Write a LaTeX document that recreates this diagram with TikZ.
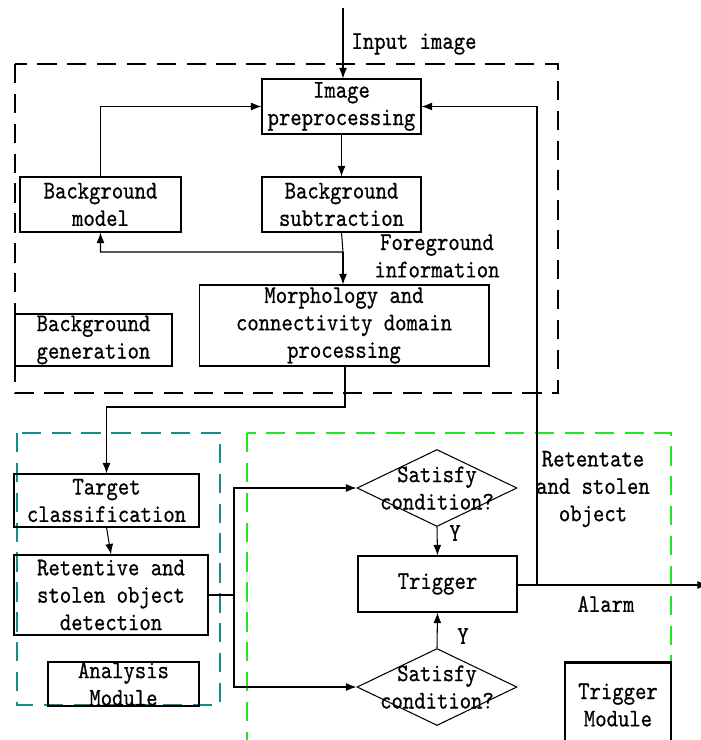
\documentclass[tikz,border=0pt]{standalone}
\usepackage{fontspec}
\usepackage{xcolor}
\usetikzlibrary{
    positioning,      % For placing nodes relative to each other
    shapes.geometric, % For the 'diamond' decision shape
    arrows.meta       % For modern arrow tips like 'Latex'
}
\newfontfamily\diafont{lmmono10-regular.otf}[FakeStretch=0.85,FakeBold=0.6]
\definecolor{AnalysisColor}{HTML}{138C8C}
\definecolor{TriggerColor}{HTML}{22E622}

\begin{document}
\begin{tikzpicture}[
    % One unit is one pixel of the 700x740 reference, y grows downwards
    x=0.02cm, y=-0.02cm,
    % Narrow, tall serif typewriter text to match the image
    font=\diafont\fontsize{14.5}{15.6}\selectfont,
]
    % --- Define TikZ styles for diagram elements ---
    \tikzset{
        % Style for the plain process blocks
        block/.style={
            shape=rectangle,
            draw=black,
            line width=0.6pt,
            align=center,
            inner sep=0pt,
        },
        % Style for the module name boxes (heavy border)
        modulebox/.style={
            block,
            line width=1.4pt,
        },
        % Style for the decision diamonds
        decision/.style={
            shape=diamond,
            draw=black,
            line width=0.6pt,
            inner sep=0pt,
            minimum width=3.2cm,
            minimum height=1.54cm,
        },
        % Style for the dashed module frames
        frame/.style={
            line width=1.1pt,
            dash pattern=on 11pt off 6pt,
        },
        % Style for the free labels
        tag/.style={
            align=center,
            inner sep=0pt,
        },
        % Style for the arrows connecting the blocks
        arrow/.style={
            draw,
            line width=0.6pt,
            -{Latex[length=6pt,width=4.5pt]}
        }
    }

    \useasboundingbox (0,0) rectangle (700,740);

    % --- Dashed module frames ---
    \draw[frame, black]         (15,64)   rectangle (558,393);
    \draw[frame, AnalysisColor] (17,433)  rectangle (220,705);
    \draw[frame, TriggerColor]  (247,433) rectangle (671,760);

    % --- Background generation part ---
    \node[block, minimum width=3.18cm, minimum height=1.1cm] (prep)
        at (341.5,106.5) {Image\\preprocessing};
    \node[block, minimum width=3.22cm, minimum height=1.1cm] (bgmodel)
        at (100.5,204.5) {Background\\model};
    \node[block, minimum width=3.18cm, minimum height=1.1cm] (bgsub)
        at (341.5,204.5) {Background\\subtraction};
    \node[block, minimum width=5.8cm, minimum height=1.62cm] (morph)
        at (344,325.5) {Morphology and\\connectivity domain\\processing};
    \node[modulebox, minimum width=3.14cm, minimum height=1.04cm] (bggen)
        at (93.5,340) {Background\\generation};

    % --- Analysis part ---
    \node[block, minimum width=3.7cm, minimum height=1.06cm] (target)
        at (106.5,500.5) {Target\\classification};
    \node[block, minimum width=3.88cm, minimum height=1.6cm] (retent)
        at (111,595) {Retentive and\\stolen object\\detection};
    \node[modulebox, minimum width=3.02cm, minimum height=0.88cm] (analysis)
        at (123.5,684) {Analysis\\Module};

    % --- Trigger part ---
    \node[decision, label={[tag]center:Satisfy\\condition?}] (cond1)
        at (437,488) {};
    \node[block, minimum width=3.18cm, minimum height=1.12cm] (trigger)
        at (437.5,584) {Trigger};
    \node[decision, label={[tag]center:Satisfy\\condition?}] (cond2)
        at (437,687) {};
    \node[modulebox, minimum width=2.12cm, minimum height=1.7cm] (trigmod)
        at (618,705) {Trigger\\Module};

    % --- Free labels ---
    \node[tag] (inputlbl) at (414,44)  {Input image};
    \node[tag] (forelbl)  at (437,256) {Foreground\\information};
    \node[tag] (retlbl)   at (593,489) {Retentate\\and stolen\\object};
    \node[tag] (alarmlbl) at (606,604) {Alarm};
    \node[tag] (y1)       at (455,533) {Y};
    \node[tag] (y2)       at (463,636) {Y};

    % --- Junction points ---
    \coordinate (in)    at (343,8);
    \coordinate (split) at (343,252);
    \coordinate (down)  at (345,407);
    \coordinate (fork)  at (234,595);
    \coordinate (tap)   at (537,585);
    \coordinate (out)   at (708,585);

    % --- Connectors ---
    \draw[arrow] (in) -- (in |- prep.north);
    \draw[arrow] (prep.south) -- (bgsub.north);
    \draw[arrow] (bgsub.south) -- (split) -| (bgmodel.south);
    \draw[arrow] (split) -- (split |- morph.north);
    \draw[arrow] (bgmodel.north) |- (prep.west);
    \draw[arrow] (morph.south -| down) -- (down) -| (target.north);
    \draw[arrow] (target.south) -- (retent.north);
    \draw[line width=0.6pt] (retent.east) -- (fork);
    \draw[arrow] (fork) |- (cond1.west);
    \draw[arrow] (fork) |- (cond2.west);
    \draw[arrow] (cond1.south) -- (trigger.north);
    \draw[arrow] (cond2.north) -- (trigger.south);
    \draw[arrow] (trigger.east |- out) -- (out);
    \draw[arrow] (tap) |- (prep.east);

\end{tikzpicture}
\end{document}
